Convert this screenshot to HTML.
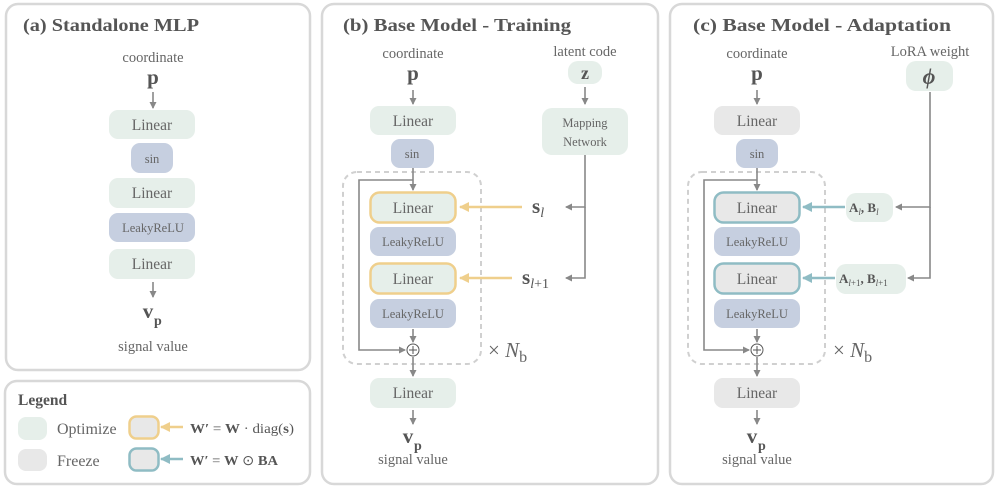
<!DOCTYPE html>
<html><head><meta charset="utf-8"><style>
html,body{margin:0;padding:0;background:#fff;}
svg{display:block;font-family:"Liberation Serif",serif;}
</style></head><body>
<svg width="997" height="490" viewBox="0 0 997 490" xmlns="http://www.w3.org/2000/svg">
<defs>
<marker id="ag" markerWidth="8" markerHeight="8" refX="6" refY="4" orient="auto" markerUnits="userSpaceOnUse"><path d="M0,0.5 L7,4 L0,7.5 Z" fill="#888"/></marker>
<marker id="ay" markerWidth="12" markerHeight="12" refX="9" refY="6" orient="auto" markerUnits="userSpaceOnUse"><path d="M0,1 L10,6 L0,11 Z" fill="#efcf8c"/></marker>
<marker id="at" markerWidth="12" markerHeight="12" refX="9" refY="6" orient="auto" markerUnits="userSpaceOnUse"><path d="M0,1 L10,6 L0,11 Z" fill="#8fbcc4"/></marker>
</defs>
<g fill="none" stroke="#d8d8d8" stroke-width="2.5">
<rect x="6" y="4" width="304" height="366" rx="12"/>
<rect x="5" y="381" width="305" height="103" rx="12"/>
<rect x="322" y="4" width="336" height="480" rx="12"/>
<rect x="670" y="4" width="323" height="480" rx="12"/>
</g>
<g font-weight="bold" font-size="18" fill="#555">
<text x="23" y="31" textLength="176" lengthAdjust="spacingAndGlyphs">(a) Standalone MLP</text>
<text x="343" y="31" textLength="228" lengthAdjust="spacingAndGlyphs">(b) Base Model - Training</text>
<text x="693" y="31" textLength="258" lengthAdjust="spacingAndGlyphs">(c) Base Model - Adaptation</text>
</g>
<g font-size="14.5" fill="#666" text-anchor="middle">
<text x="153" y="62">coordinate</text>
<text x="413" y="58">coordinate</text>
<text x="757" y="58">coordinate</text>
<text x="585" y="56">latent code</text>
<text x="930" y="56">LoRA weight</text>
<text x="153" y="351">signal value</text>
<text x="413" y="464">signal value</text>
<text x="757" y="464">signal value</text>
</g>
<g font-size="21" font-weight="bold" fill="#555" text-anchor="middle">
<text x="153" y="84">p</text><text x="413" y="80">p</text><text x="757" y="80">p</text>
<text x="148" y="318">v</text><text x="408" y="443">v</text><text x="752" y="443">v</text>
</g>
<g font-size="14" font-weight="bold" fill="#555">
<text x="154" y="325">p</text><text x="414" y="450">p</text><text x="758" y="450">p</text>
</g>
<g>
<rect x="109" y="110" width="86" height="29" rx="9" fill="#e6efea"/>
<rect x="131" y="143" width="42" height="30" rx="9" fill="#c6cfe0"/>
<rect x="109" y="178" width="86" height="30" rx="9" fill="#e6efea"/>
<rect x="109" y="213" width="86" height="29" rx="9" fill="#c6cfe0"/>
<rect x="109" y="249" width="86" height="30" rx="9" fill="#e6efea"/>

<rect x="370" y="106" width="86" height="29" rx="9" fill="#e6efea"/>
<rect x="391" y="139" width="43" height="29" rx="9" fill="#c6cfe0"/>
<rect x="370.5" y="192.5" width="85" height="30" rx="9" fill="#e6efea" stroke="#efcf8c" stroke-width="2.5"/>
<rect x="370" y="227" width="86" height="29" rx="9" fill="#c6cfe0"/>
<rect x="370.5" y="263.5" width="85" height="30" rx="9" fill="#e6efea" stroke="#efcf8c" stroke-width="2.5"/>
<rect x="370" y="299" width="86" height="29" rx="9" fill="#c6cfe0"/>
<rect x="370" y="378" width="86" height="30" rx="9" fill="#e6efea"/>
<rect x="568" y="61" width="34" height="23" rx="10" fill="#e6efea"/>
<rect x="542" y="108" width="86" height="47" rx="10" fill="#e6efea"/>

<rect x="714" y="106" width="86" height="29" rx="9" fill="#e8e8e8"/>
<rect x="736" y="139" width="42" height="29" rx="9" fill="#c6cfe0"/>
<rect x="714.5" y="192.5" width="85" height="30" rx="9" fill="#e8e8e8" stroke="#8fbcc4" stroke-width="2.5"/>
<rect x="714" y="227" width="86" height="29" rx="9" fill="#c6cfe0"/>
<rect x="714.5" y="263.5" width="85" height="30" rx="9" fill="#e8e8e8" stroke="#8fbcc4" stroke-width="2.5"/>
<rect x="714" y="299" width="86" height="29" rx="9" fill="#c6cfe0"/>
<rect x="714" y="378" width="86" height="30" rx="9" fill="#e8e8e8"/>
<rect x="906" y="61" width="47" height="30" rx="10" fill="#e6efea"/>
<rect x="846" y="193" width="47" height="29" rx="10" fill="#e6efea"/>
<rect x="836" y="264" width="70" height="30" rx="10" fill="#e6efea"/>

<rect x="18" y="417" width="29" height="23" rx="8" fill="#e6efea"/>
<rect x="18" y="449" width="29" height="22" rx="8" fill="#e8e8e8"/>
<rect x="129.5" y="416.5" width="29" height="22" rx="7" fill="#e8e8e8" stroke="#efcf8c" stroke-width="2.5"/>
<rect x="129.5" y="448.5" width="29" height="22" rx="7" fill="#e8e8e8" stroke="#8fbcc4" stroke-width="2.5"/>
</g>
<g fill="none" stroke="#d0d0d0" stroke-width="2" stroke-dasharray="5,4">
<rect x="343" y="172" width="138" height="192" rx="14"/>
<rect x="688" y="172" width="137" height="192" rx="14"/>
</g>
<g font-size="15.5" fill="#666" text-anchor="middle">
<text x="152" y="130">Linear</text><text x="152" y="198">Linear</text><text x="152" y="269">Linear</text>
<text x="413" y="126">Linear</text><text x="413" y="213">Linear</text><text x="413" y="284">Linear</text><text x="413" y="398">Linear</text>
<text x="757" y="126">Linear</text><text x="757" y="213">Linear</text><text x="757" y="284">Linear</text><text x="757" y="398">Linear</text>
</g>
<g font-size="12.5" fill="#666" text-anchor="middle">
<text x="152" y="163">sin</text><text x="412" y="158">sin</text><text x="757" y="158">sin</text>
<text x="153" y="232">LeakyReLU</text>
<text x="413" y="246">LeakyReLU</text><text x="413" y="318">LeakyReLU</text>
<text x="757" y="246">LeakyReLU</text><text x="757" y="318">LeakyReLU</text>
<text x="585" y="127">Mapping</text><text x="585" y="146">Network</text>
</g>
<text x="585" y="79" font-size="18" font-weight="bold" fill="#555" text-anchor="middle">z</text>
<text x="929" y="84" font-size="22" font-weight="bold" font-style="italic" fill="#555" text-anchor="middle">ϕ</text>
<g stroke="#888" stroke-width="1.6" fill="none" marker-end="url(#ag)">
<line x1="153" y1="92" x2="153" y2="108"/><line x1="153" y1="282" x2="153" y2="297"/>
<line x1="413" y1="90" x2="413" y2="104"/><line x1="413" y1="168" x2="413" y2="190"/>
<line x1="413" y1="329" x2="413" y2="342"/><line x1="413" y1="357" x2="413" y2="376"/><line x1="413" y1="410" x2="413" y2="424"/>
<polyline points="413,180 359,180 359,350 405,350"/>
<line x1="585" y1="87" x2="585" y2="104"/>
<polyline points="585,155 585,207 566,207"/><polyline points="585,207 585,278 566,278"/>
<line x1="757" y1="90" x2="757" y2="104"/><line x1="757" y1="168" x2="757" y2="190"/>
<line x1="757" y1="329" x2="757" y2="342"/><line x1="757" y1="357" x2="757" y2="376"/><line x1="757" y1="410" x2="757" y2="424"/>
<polyline points="757,180 704,180 704,350 749,350"/>
<polyline points="930,92 930,207 896,207"/><polyline points="930,207 930,278 908,278"/>
</g>
<g stroke="#efcf8c" stroke-width="2.5" marker-end="url(#ay)">
<line x1="522" y1="207" x2="460" y2="207"/><line x1="512" y1="278" x2="460" y2="278"/>
<line x1="183" y1="427" x2="161" y2="427"/>
</g>
<g stroke="#8fbcc4" stroke-width="2.5" marker-end="url(#at)">
<line x1="845" y1="207" x2="803" y2="207"/><line x1="835" y1="278" x2="803" y2="278"/>
<line x1="183" y1="459" x2="161" y2="459"/>
</g>
<g fill="#fff" stroke="#555" stroke-width="1">
<circle cx="413" cy="350" r="6"/><circle cx="757" cy="350" r="6"/>
</g>
<g stroke="#555" stroke-width="1">
<line x1="409" y1="350" x2="417" y2="350"/><line x1="413" y1="346" x2="413" y2="354"/>
<line x1="753" y1="350" x2="761" y2="350"/><line x1="757" y1="346" x2="757" y2="354"/>
</g>
<text x="532" y="213" font-size="21" font-weight="bold" fill="#555">s<tspan font-size="14" font-style="italic" font-weight="normal" dy="4">l</tspan></text>
<text x="522" y="284" font-size="21" font-weight="bold" fill="#555">s<tspan font-size="14" font-weight="normal" dy="4"><tspan font-style="italic">l</tspan>+1</tspan></text>
<text x="849" y="212" font-size="13" font-weight="bold" fill="#555">A<tspan font-size="9" font-style="italic" font-weight="normal" dy="3">l</tspan><tspan dy="-3">, B</tspan><tspan font-size="9" font-style="italic" font-weight="normal" dy="3">l</tspan></text>
<text x="839" y="283" font-size="13" font-weight="bold" fill="#555">A<tspan font-size="9" font-weight="normal" dy="3"><tspan font-style="italic">l</tspan>+1</tspan><tspan dy="-3">, B</tspan><tspan font-size="9" font-weight="normal" dy="3"><tspan font-style="italic">l</tspan>+1</tspan></text>
<text x="488" y="357" font-size="21" fill="#666">× <tspan font-style="italic">N</tspan><tspan dy="5" font-size="16">b</tspan></text>
<text x="833" y="357" font-size="21" fill="#666">× <tspan font-style="italic">N</tspan><tspan dy="5" font-size="16">b</tspan></text>
<text x="18" y="405" font-size="15.5" font-weight="bold" fill="#555">Legend</text>
<text x="57" y="434" font-size="16" fill="#666">Optimize</text>
<text x="57" y="466" font-size="16" fill="#666">Freeze</text>
<text x="190" y="433" font-size="14" fill="#555" textLength="104" lengthAdjust="spacingAndGlyphs"><tspan font-weight="bold">W′</tspan> = <tspan font-weight="bold">W</tspan> · diag(<tspan font-weight="bold">s</tspan>)</text>
<text x="190" y="465" font-size="14" fill="#555" textLength="88" lengthAdjust="spacingAndGlyphs"><tspan font-weight="bold">W′</tspan> = <tspan font-weight="bold">W</tspan> ⊙ <tspan font-weight="bold">BA</tspan></text>
</svg>
</body></html>
